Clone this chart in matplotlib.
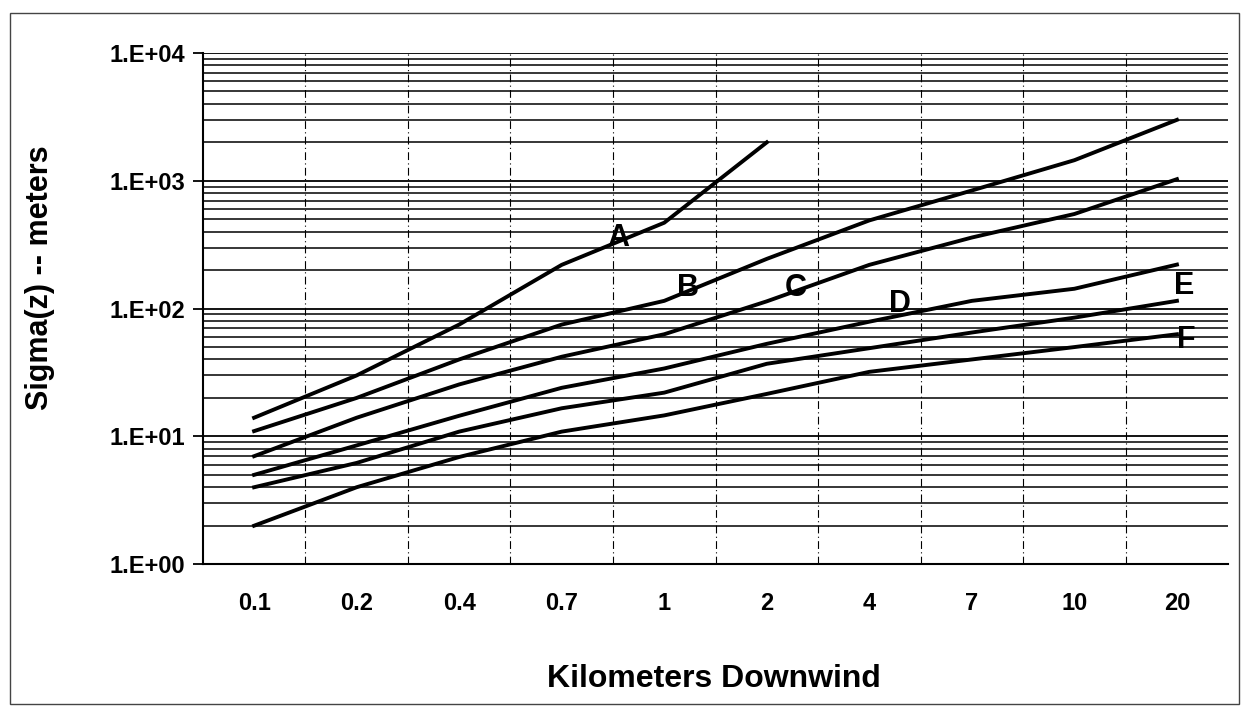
import numpy as np
import matplotlib
matplotlib.use("Agg")
import matplotlib.pyplot as plt
from matplotlib.ticker import FixedLocator, NullFormatter, LogLocator
from matplotlib.patches import Rectangle

plt.rcParams['font.family'] = ['Liberation Sans', 'DejaVu Sans']
plt.rcParams['font.weight'] = 'bold'

# Datos: distancia (km) y sigma z (m) por clase de estabilidad
distancias = ["0.1", "0.2", "0.4", "0.7", "1", "2", "4", "7", "10", "20"]
sig_A = [14, 30, 75, 220, 470, 2000]
sig_B = [11, 20, 40, 75, 115, 245, 490, 840, 1450, 3000]
sig_C = [7, 14, 25.5, 42, 63, 114, 220, 360, 550, 1030]
sig_D = [5, 8.5, 14.5, 24, 34, 53, 79, 115, 143, 221]
sig_E = [4, 6.2, 10.9, 16.6, 22, 37, 49, 65, 85, 115]
sig_F = [2, 4, 6.9, 10.9, 14.6, 21.5, 32, 40, 50, 63]
series = [sig_A, sig_B, sig_C, sig_D, sig_E, sig_F]

y_ticks = [1, 10, 100, 1000, 10000]
y_labels = ["1.E+00", "1.E+01", "1.E+02", "1.E+03", "1.E+04"]

# Etiquetas de cada curva (letra, posición x en categorías, valor y)
etiquetas = [("A", 3.55, 360), ("B", 4.23, 146), ("C", 5.28, 146),
             ("D", 6.30, 109), ("E", 9.07, 151), ("F", 9.09, 57)]

fig = plt.figure(figsize=(12.52, 7.07), dpi=100)
ax = fig.add_axes([0.162, 0.202, 0.819, 0.723])

x = np.arange(len(distancias))
for s in series:
    ax.plot(x[:len(s)], s, color="black", linewidth=2.8, solid_joinstyle="round")

ax.set_yscale("log")
ax.set_ylim(1, 10000)
ax.set_xlim(-0.5, len(distancias) - 0.5)

# Rejilla
ax.yaxis.set_minor_locator(LogLocator(base=10, subs=np.arange(2, 10)))
ax.yaxis.set_minor_formatter(NullFormatter())
ax.grid(which="major", axis="y", color="black", linewidth=1.3)
ax.grid(which="minor", axis="y", color="black", linewidth=1.1)
ax.xaxis.set_minor_locator(FixedLocator(np.arange(0.5, len(distancias) - 0.5, 1)))
ax.grid(which="minor", axis="x", color="black", linewidth=0.8, linestyle=(0, (7, 3, 1, 3)))
ax.set_axisbelow(True)

ax.set_yticks(y_ticks)
ax.set_yticklabels(y_labels)
ax.set_xticks(x)
ax.set_xticklabels(distancias)
ax.tick_params(axis="y", which="major", length=7, width=1.3, pad=6, labelsize=17)
ax.tick_params(axis="y", which="minor", length=0)
ax.tick_params(axis="x", which="both", length=0, pad=20, labelsize=17)

for sp in ["top", "right"]:
    ax.spines[sp].set_visible(False)
ax.spines["left"].set_linewidth(1.5)
ax.spines["bottom"].set_linewidth(1.5)

ax.set_xlabel("Kilometers Downwind", fontsize=23, fontweight="bold")
ax.set_ylabel("Sigma(z) -- meters", fontsize=22, fontweight="bold")
ax.xaxis.set_label_coords(0.4985, -0.196)
ax.yaxis.set_label_coords(-0.144, 0.56)

for letra, xp, yp in etiquetas:
    ax.text(xp, yp, letra, fontsize=22, fontweight="bold", ha="center", va="center", zorder=5)

# Borde exterior del gráfico
fig.patches.append(Rectangle((0.008, 0.004), 0.982, 0.978, transform=fig.transFigure,
                             fill=False, edgecolor="#444444", linewidth=1))

plt.savefig("out.png", dpi=100)
